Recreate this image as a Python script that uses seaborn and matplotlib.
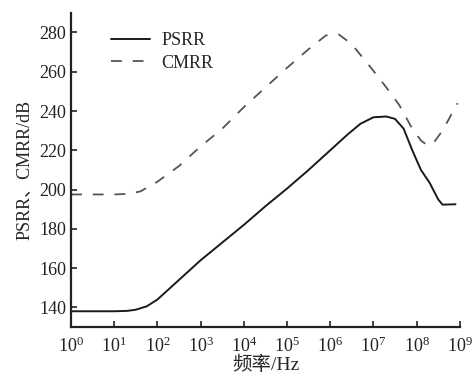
import pandas as pd
import matplotlib.pyplot as plt
import seaborn as sns

# Values (x given as log10 of frequency)
psrr_logf = [0, 0.5, 1.0, 1.3, 1.5, 1.75, 2.0, 2.5, 3.0, 3.5, 4.0, 4.5, 5.0, 5.5,
             6.0, 6.4, 6.7, 7.0, 7.3, 7.5, 7.7, 7.9, 8.1, 8.3, 8.5, 8.6, 8.9]
psrr_db = [138, 138, 138, 138.2, 138.8, 140.5, 144, 154, 164, 173, 182, 191.5, 200.5, 210,
           220, 228, 233.5, 236.8, 237.2, 236, 231, 220, 210, 203.5, 195, 192.3, 192.5]

cmrr_logf = [0, 0.5, 1.0, 1.3, 1.6, 2.0, 2.5, 3.0, 3.5, 4.0, 4.5, 5.0, 5.5, 5.9,
             6.2, 6.5, 7.0, 7.3, 7.6, 7.9, 8.1, 8.25, 8.4, 8.6, 8.95]
cmrr_db = [197.5, 197.5, 197.5, 197.8, 199, 204, 212, 222, 231, 242, 252, 262, 271.5, 278.5,
           279, 274, 260.5, 252, 243, 231, 225, 222.5, 224, 230, 244]

psrr = pd.DataFrame({"f": [10 ** v for v in psrr_logf], "db": psrr_db})
cmrr = pd.DataFrame({"f": [10 ** v for v in cmrr_logf], "db": cmrr_db})

sns.set_style("ticks")
plt.rcParams["font.family"] = ["Liberation Serif", "Noto Sans CJK SC"]
plt.rcParams["mathtext.fontset"] = "custom"
plt.rcParams["mathtext.rm"] = "Liberation Serif"
plt.rcParams["mathtext.it"] = "Liberation Serif"
plt.rcParams["mathtext.default"] = "rm"
plt.rcParams["xtick.direction"] = "in"
plt.rcParams["ytick.direction"] = "in"

fig = plt.figure(figsize=(4.74, 3.78), dpi=100)
ax = fig.add_axes([0.15, 0.135, 0.82, 0.831])

sns.lineplot(data=psrr, x="f", y="db", ax=ax, color="#1a1a1a", linewidth=1.4, label="PSRR")
sns.lineplot(data=cmrr, x="f", y="db", ax=ax, color="#555555", linewidth=1.3,
             dashes=False, label="CMRR")
ax.lines[1].set_dashes([6, 6])

ax.set_xscale("log")
ax.set_xlim(1, 1e9)
ax.set_ylim(130, 290)
ax.set_xticks([10 ** i for i in range(10)])
ax.set_xticklabels([f"$10^{{{i}}}$" for i in range(10)])
ax.minorticks_off()
ax.set_yticks(range(140, 300, 20))
ax.tick_params(axis="both", labelsize=13, width=1.2, length=4, colors="#222222")
ax.tick_params(axis="x", pad=7)

for s in ["top", "right"]:
    ax.spines[s].set_visible(False)
for s in ["left", "bottom"]:
    ax.spines[s].set_linewidth(1.6)
    ax.spines[s].set_color("#222222")

ax.set_xlabel("频率/Hz", fontsize=14, family=["Liberation Serif", "Noto Sans CJK SC"], labelpad=0)
ax.set_ylabel("PSRR、CMRR/dB", fontsize=13, family=["Liberation Serif", "Noto Sans CJK SC"], labelpad=4)

ax.legend(loc="upper left", bbox_to_anchor=(0.06, 0.99), frameon=False, fontsize=13,
          handlelength=2.2, handletextpad=0.6, labelspacing=0.3)

fig.savefig("out.png", dpi=100)
